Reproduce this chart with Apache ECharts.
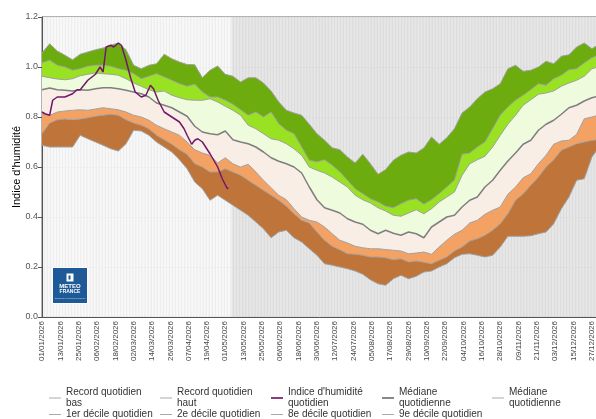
<!DOCTYPE html>
<html>
<head>
<meta charset="utf-8">
<script src="https://cdn.jsdelivr.net/npm/echarts@6/dist/echarts.min.js"></script>
<style>
  html, body { margin: 0; padding: 0; background: #fff; }
  #chart { width: 596px; height: 419px; }
</style>
</head>
<body>
<div id="chart"></div>
<script>
// jours (index dans l'année) où les courbes climatologiques sont relevées
const days = [0, 5, 10, 15, 20, 25, 30, 35, 40, 45, 50, 55, 60, 65, 70, 75, 80, 85, 90, 95,
  100, 105, 110, 115, 120, 125, 130, 135, 140, 145, 150, 155, 160, 165, 170, 175, 180, 185, 190, 195,
  200, 205, 210, 215, 220, 225, 230, 235, 240, 245, 250, 255, 260, 265, 270, 275, 280, 285, 290, 295,
  300, 305, 310, 315, 320, 325, 330, 335, 340, 345, 350, 355, 360, 364]

const recordBas = [0.687, 0.68, 0.68, 0.68, 0.68, 0.727, 0.713, 0.7, 0.687, 0.673, 0.664, 0.693, 0.747, 0.744, 0.727, 0.7, 0.68, 0.66, 0.629, 0.593,
  0.54, 0.513, 0.467, 0.487, 0.467, 0.447, 0.427, 0.407, 0.38, 0.353, 0.317, 0.34, 0.347, 0.317, 0.3, 0.273, 0.247, 0.213, 0.207, 0.2,
  0.193, 0.184, 0.171, 0.149, 0.133, 0.127, 0.153, 0.167, 0.153, 0.163, 0.18, 0.184, 0.2, 0.213, 0.237, 0.251, 0.253, 0.247, 0.24, 0.247,
  0.28, 0.323, 0.323, 0.323, 0.325, 0.333, 0.34, 0.373, 0.433, 0.48, 0.547, 0.553, 0.64, 0.673]

const decile1 = [0.733, 0.776, 0.789, 0.792, 0.789, 0.792, 0.797, 0.803, 0.807, 0.811, 0.807, 0.789, 0.776, 0.767, 0.753, 0.727, 0.709, 0.691, 0.669, 0.651,
  0.613, 0.6, 0.58, 0.58, 0.593, 0.58, 0.567, 0.547, 0.527, 0.507, 0.487, 0.467, 0.443, 0.413, 0.387, 0.376, 0.34, 0.307, 0.283, 0.269,
  0.253, 0.251, 0.247, 0.24, 0.24, 0.237, 0.229, 0.233, 0.22, 0.224, 0.219, 0.213, 0.227, 0.24, 0.264, 0.28, 0.304, 0.313, 0.327, 0.347,
  0.373, 0.413, 0.467, 0.493, 0.527, 0.56, 0.6, 0.629, 0.667, 0.68, 0.693, 0.7, 0.707, 0.709]

const decile2 = [0.813, 0.807, 0.82, 0.824, 0.827, 0.829, 0.827, 0.832, 0.837, 0.833, 0.829, 0.82, 0.807, 0.8, 0.787, 0.767, 0.753, 0.74, 0.727, 0.7,
  0.669, 0.656, 0.647, 0.616, 0.637, 0.613, 0.6, 0.611, 0.58, 0.547, 0.517, 0.487, 0.469, 0.433, 0.4, 0.387, 0.38, 0.36, 0.333, 0.307,
  0.296, 0.283, 0.277, 0.273, 0.273, 0.27, 0.267, 0.264, 0.253, 0.256, 0.26, 0.251, 0.28, 0.307, 0.331, 0.347, 0.376, 0.387, 0.411, 0.427,
  0.44, 0.491, 0.52, 0.557, 0.573, 0.613, 0.647, 0.691, 0.704, 0.707, 0.731, 0.793, 0.8, 0.807]

const mediane = [0.909, 0.916, 0.909, 0.907, 0.904, 0.909, 0.907, 0.913, 0.917, 0.917, 0.913, 0.907, 0.9, 0.893, 0.88, 0.856, 0.847, 0.837, 0.82, 0.803,
  0.763, 0.74, 0.733, 0.729, 0.744, 0.709, 0.7, 0.693, 0.68, 0.66, 0.637, 0.623, 0.613, 0.6, 0.576, 0.52, 0.469, 0.437, 0.427, 0.416,
  0.393, 0.38, 0.371, 0.347, 0.333, 0.347, 0.335, 0.327, 0.34, 0.333, 0.317, 0.36, 0.38, 0.4, 0.407, 0.44, 0.467, 0.48, 0.52, 0.547,
  0.587, 0.624, 0.656, 0.691, 0.707, 0.747, 0.771, 0.787, 0.811, 0.837, 0.847, 0.864, 0.877, 0.883]

const decile8 = [0.963, 0.957, 0.952, 0.949, 0.953, 0.965, 0.971, 0.976, 0.973, 0.971, 0.967, 0.953, 0.936, 0.923, 0.909, 0.9, 0.904, 0.887, 0.877, 0.869,
  0.867, 0.867, 0.873, 0.86, 0.843, 0.827, 0.807, 0.767, 0.753, 0.733, 0.713, 0.707, 0.693, 0.673, 0.647, 0.6, 0.587, 0.576, 0.56, 0.54,
  0.52, 0.487, 0.469, 0.456, 0.437, 0.424, 0.407, 0.403, 0.416, 0.429, 0.413, 0.433, 0.46, 0.48, 0.5, 0.567, 0.613, 0.629, 0.643, 0.68,
  0.727, 0.771, 0.807, 0.847, 0.869, 0.891, 0.896, 0.904, 0.923, 0.936, 0.947, 0.963, 0.993, 1.0]

const decile9 = [1.017, 1.027, 1.007, 1.0, 0.987, 0.993, 1.003, 1.007, 1.007, 1.003, 0.993, 0.987, 0.973, 0.953, 0.963, 0.973, 0.96, 0.947, 0.933, 0.923,
  0.931, 0.9, 0.88, 0.88, 0.867, 0.851, 0.829, 0.807, 0.82, 0.8, 0.82, 0.773, 0.747, 0.733, 0.68, 0.627, 0.62, 0.629, 0.607, 0.58,
  0.547, 0.513, 0.493, 0.473, 0.46, 0.443, 0.437, 0.453, 0.467, 0.473, 0.451, 0.469, 0.493, 0.52, 0.547, 0.651, 0.656, 0.68, 0.7, 0.753,
  0.807, 0.84, 0.867, 0.887, 0.909, 0.933, 0.927, 0.953, 0.967, 0.989, 0.993, 1.016, 1.037, 1.047]

const recordHaut = [1.056, 1.093, 1.064, 1.047, 1.029, 1.051, 1.06, 1.069, 1.076, 1.087, 1.096, 1.069, 1.007, 0.993, 1.007, 1.013, 1.051, 1.033, 1.02, 1.01,
  1.009, 0.957, 0.987, 1.004, 0.971, 0.963, 0.94, 0.957, 0.957, 0.936, 0.904, 0.86, 0.827, 0.816, 0.807, 0.771, 0.733, 0.707, 0.677, 0.669,
  0.64, 0.616, 0.651, 0.613, 0.571, 0.59, 0.627, 0.647, 0.66, 0.656, 0.676, 0.72, 0.691, 0.717, 0.753, 0.816, 0.84, 0.873, 0.9, 0.913,
  0.933, 0.993, 1.007, 0.983, 0.987, 1.0, 1.023, 1.013, 1.043, 1.049, 1.08, 1.096, 1.073, 1.088]

// indice d'humidité observé 2026
const indiceDays = [0, 2, 5, 7, 10, 15, 20, 23, 25, 30, 35, 38, 40, 42, 45, 47, 50, 52, 55, 58,
  61, 65, 68, 71, 73, 76, 80, 85, 90, 93, 95, 98, 100, 102, 105, 110, 115, 118, 121, 122]
const indice = [0.82, 0.813, 0.807, 0.867, 0.88, 0.88, 0.893, 0.909, 0.909, 0.947, 0.971, 1.0, 0.98, 1.08, 1.087, 1.08, 1.096, 1.087, 1.027, 0.957,
  0.9, 0.88, 0.887, 0.927, 0.913, 0.867, 0.82, 0.8, 0.78, 0.753, 0.727, 0.691, 0.707, 0.713, 0.7, 0.653, 0.6, 0.553, 0.517, 0.513]

const tickLabels = ['01/01/2026', '13/01/2026', '25/01/2026', '06/02/2026', '18/02/2026', '02/03/2026', '14/03/2026', '26/03/2026',
  '07/04/2026', '19/04/2026', '01/05/2026', '13/05/2026', '25/05/2026', '06/06/2026', '18/06/2026', '30/06/2026', '12/07/2026',
  '24/07/2026', '05/08/2026', '17/08/2026', '29/08/2026', '10/09/2026', '22/09/2026', '04/10/2026', '16/10/2026', '28/10/2026',
  '09/11/2026', '21/11/2026', '03/12/2026', '15/12/2026', '27/12/2026']

const nbDays = 365
const futureStart = 124

const legendText = {
  rl: 'Record quotidien\nbas',
  rh: 'Record quotidien\nhaut',
  idx: "Indice d'humidité\nquotidien",
  med: 'Médiane\nquotidienne',
  med2: 'Médiane\nquotidienne',
  d1: '1er décile quotidien',
  d2: '2e décile quotidien',
  d8: '8e décile quotidien',
  d9: '9e décile quotidien'
}

const chart = echarts.init(document.getElementById('chart'))

// bandes empilées : chaque série porte l'écart avec la courbe du dessous
const layers = [
  { key: 'rl', vals: recordBas, fill: null },
  { key: 'd1', vals: decile1, fill: '#bf7539' },
  { key: 'd2', vals: decile2, fill: '#f3a264' },
  { key: 'med', vals: mediane, fill: '#f9eee6' },
  { key: 'd8', vals: decile8, fill: '#eefbdc' },
  { key: 'd9', vals: decile9, fill: '#98e222' },
  { key: 'rh', vals: recordHaut, fill: '#6cac0e' }
]
const bandSeries = layers.map((l, i) => ({
  name: l.key,
  type: 'line',
  stack: 'clim',
  showSymbol: false,
  silent: true,
  lineStyle: l.key === 'med' ? { color: '#7f7f7f', width: 1.5 } : { color: '#a0a0a0', width: 1 },
  areaStyle: l.fill ? { color: l.fill, opacity: 1 } : undefined,
  data: days.map((d, k) => [d, i === 0 ? l.vals[k] : +(l.vals[k] - layers[i - 1].vals[k]).toFixed(4)])
}))

function legendAt(key, left, top, color, h) {
  return {
    data: [{ name: key, icon: 'rect', itemStyle: { color: color } }],
    left: left, top: top, padding: 0,
    itemWidth: 12, itemHeight: h || 1,
    selectedMode: false,
    formatter: n => legendText[n],
    textStyle: { fontSize: 10, color: '#333', lineHeight: 11 }
  }
}

chart.setOption({
  animation: false,
  textStyle: { fontFamily: 'Liberation Sans, Arial, sans-serif' },
  grid: {
    left: 42, top: 17, width: 556, height: 300,
    outerBoundsMode: 'none',
    show: true, borderColor: '#666', borderWidth: 1, backgroundColor: 'transparent'
  },
  xAxis: {
    type: 'category',
    boundaryGap: false,
    data: Array.from({ length: nbDays }, (_, i) => String(i)),
    axisLine: { lineStyle: { color: '#555' } },
    axisTick: { show: false },
    axisLabel: { interval: 11, rotate: 90, fontSize: 8, color: '#444', margin: 4, formatter: (v, i) => tickLabels[i / 12] },
    splitArea: { show: true, interval: 0, areaStyle: { color: ['#f8f8f8', '#ededed'] } }
  },
  yAxis: {
    type: 'value',
    min: 0, max: 1.2, interval: 0.2,
    name: "Indice d'humidité",
    nameLocation: 'middle',
    nameGap: 20,
    nameMoveOverlap: false,
    nameTextStyle: { fontSize: 11, color: '#000' },
    axisLine: { show: true, lineStyle: { color: '#555' } },
    axisTick: { show: true, length: 4, lineStyle: { color: '#555' } },
    axisLabel: { fontSize: 9, color: '#555', margin: 4, formatter: v => v.toFixed(1) },
    splitLine: { lineStyle: { color: '#d6d6d6' } }
  },
  legend: [
    legendAt('rl', 49, 387, '#aaa'),
    legendAt('rh', 160, 387, '#aaa'),
    legendAt('idx', 271, 387, '#8a3c80', 2),
    legendAt('med', 382, 387, '#888', 2),
    legendAt('med2', 492, 387, '#aaa'),
    legendAt('d1', 49, 409, '#aaa'),
    legendAt('d2', 160, 409, '#aaa'),
    legendAt('d8', 271, 409, '#aaa'),
    legendAt('d9', 382, 409, '#aaa')
  ],
  graphic: [{
    type: 'group', left: 52, top: 267, silent: true, z: 100,
    children: [
      { type: 'rect', z: 100, shape: { x: 0, y: 0, width: 35, height: 36 }, style: { fill: '#1d5a97', stroke: '#fff', lineWidth: 1 } },
      { type: 'rect', z: 101, shape: { x: 14, y: 6, width: 7, height: 8 }, style: { fill: '#fff' } },
      { type: 'rect', z: 102, shape: { x: 16, y: 8, width: 2, height: 4 }, style: { fill: '#1d5a97' } },
      { type: 'text', z: 101, x: 17.5, y: 16, style: { text: 'METEO', fill: '#fff', font: 'bold 6px Liberation Sans', align: 'center' } },
      { type: 'text', z: 101, x: 17.5, y: 22, style: { text: 'FRANCE', fill: '#fff', font: 'bold 5px Liberation Sans', align: 'center' } },
      { type: 'text', z: 101, x: 17.5, y: 29, style: { text: 'Toujours un temps d\'avance', fill: '#cfdcea', font: '2.5px Liberation Sans', align: 'center' } }
    ]
  }],
  series: [
    ...bandSeries,
    {
      name: 'idx',
      type: 'line',
      showSymbol: false,
      silent: true,
      z: 5,
      lineStyle: { color: '#74176b', width: 1.5 },
      data: indiceDays.map((d, k) => [d, indice[k]]),
      markArea: {
        silent: true,
        itemStyle: { color: 'rgba(0,0,0,0.07)' },
        data: [[{ xAxis: futureStart }, { xAxis: nbDays - 1 }]]
      }
    },
    { name: 'med2', type: 'line', data: [] }
  ]
})
</script>
</body>
</html>
